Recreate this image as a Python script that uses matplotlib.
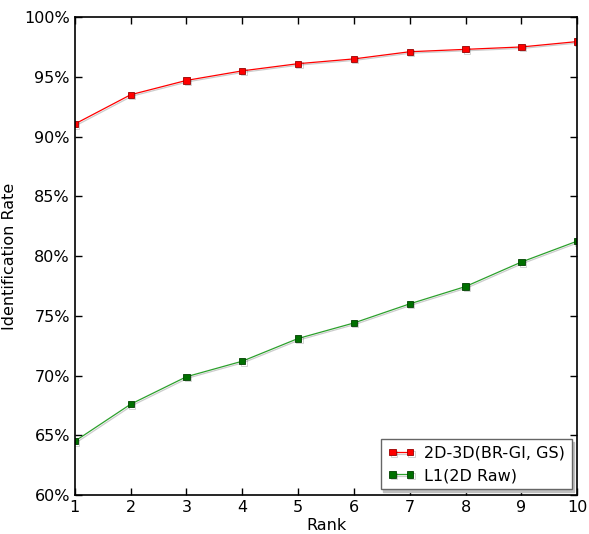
import matplotlib
matplotlib.use("Agg")
import matplotlib.pyplot as plt
import matplotlib.patheffects as pe
from matplotlib.ticker import FuncFormatter

ranks = [1, 2, 3, 4, 5, 6, 7, 8, 9, 10]
rate_2d3d = [91.05, 93.5, 94.7, 95.5, 96.1, 96.5, 97.1, 97.3, 97.5, 97.95]
rate_l1 = [64.5, 67.6, 69.9, 71.2, 73.1, 74.4, 76.0, 77.45, 79.5, 81.25]
labels = ["2D-3D(BR-GI, GS)", "L1(2D Raw)"]

plt.rcParams["xtick.direction"] = "in"
plt.rcParams["ytick.direction"] = "in"
plt.rcParams["xtick.top"] = True
plt.rcParams["ytick.right"] = True
plt.rcParams["xtick.major.size"] = 5
plt.rcParams["ytick.major.size"] = 5

fig = plt.figure(figsize=(5.89, 5.34), dpi=100)
ax = fig.add_axes([0.127, 0.073, 0.853, 0.895])

shadow = [pe.SimpleLineShadow(offset=(1, -1), alpha=0.2), pe.Normal()]
ax.plot(ranks, rate_2d3d, color="r", lw=0.9, marker="s", ms=4.5,
        mfc="r", mec="#990000", mew=0.6, label=labels[0], path_effects=shadow)
ax.plot(ranks, rate_l1, color="#2ca02c", lw=0.9, marker="s", ms=4.5,
        mfc="#007000", mec="#004000", mew=0.6, label=labels[1], path_effects=shadow)

ax.set_xlim(1, 10)
ax.set_ylim(60, 100)
ax.set_xticks(ranks)
ax.set_yticks(range(60, 101, 5))
ax.yaxis.set_major_formatter(FuncFormatter(lambda v, p: f"{v:.0f}%"))
ax.tick_params(labelsize=11.5, width=1)
for s in ax.spines.values():
    s.set_linewidth(1.2)
ax.set_xlabel("Rank", fontsize=11.5, labelpad=2)
ax.set_ylabel("Identification Rate", fontsize=11.5, labelpad=5)

leg = ax.legend(loc="lower right", fontsize=11.5, numpoints=2, fancybox=False,
                shadow={"color": "0.75", "alpha": 1, "ox": 1.5, "oy": -1.5},
                borderaxespad=0.35, handlelength=1.7, handletextpad=0.6,
                labelspacing=0.45, borderpad=0.4, framealpha=1)
leg.get_frame().set_edgecolor("#666666")
leg.get_frame().set_linewidth(1)

fig.savefig("out.png", dpi=100)
